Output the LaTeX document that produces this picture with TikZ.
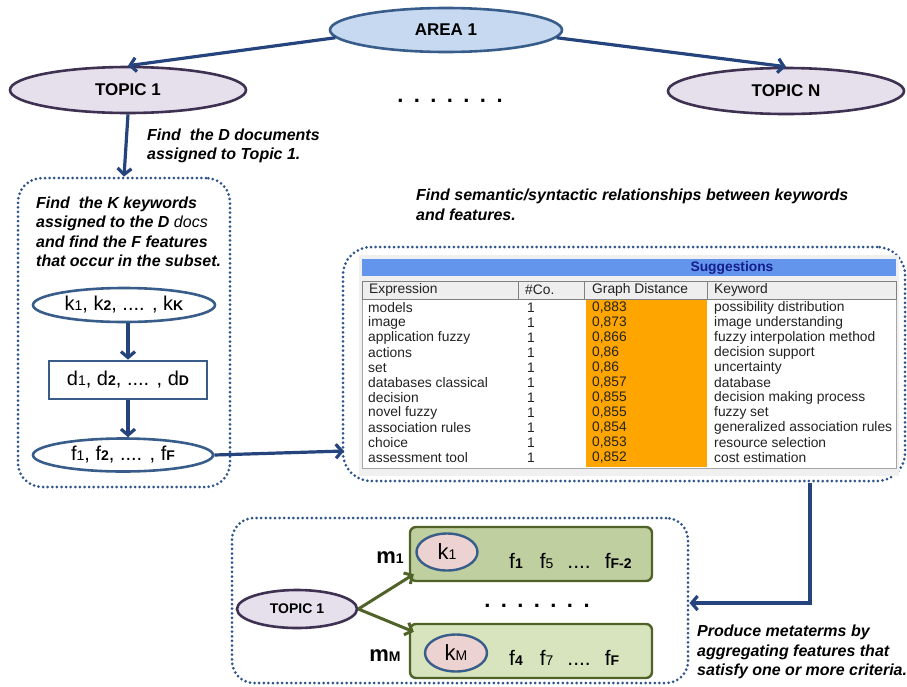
\documentclass[tikz,border=0pt]{standalone}
\usepackage{fontspec}
\setmainfont{Liberation Sans}
\usetikzlibrary{shapes.geometric, arrows.meta}

\definecolor{arrblue}{RGB}{37,68,125}
\definecolor{ellblue}{RGB}{56,93,138}
\definecolor{areafill}{RGB}{198,217,241}
\definecolor{topicfill}{RGB}{229,224,236}
\definecolor{topicline}{RGB}{63,49,81}
\definecolor{dotblue}{RGB}{46,84,140}
\definecolor{metaline}{RGB}{79,98,40}
\definecolor{metafill}{RGB}{215,228,189}
\definecolor{metafilldark}{RGB}{192,207,160}
\definecolor{kfill}{RGB}{236,210,208}
\definecolor{sugbar}{RGB}{100,149,237}
\definecolor{sugtitle}{RGB}{20,30,140}
\definecolor{headgray}{RGB}{238,238,238}
\definecolor{panelgray}{RGB}{240,240,240}
\definecolor{gdorange}{RGB}{255,165,0}
\definecolor{celltext}{RGB}{34,34,34}

\newcommand{\subidx}[1]{{\fontsize{14}{14}\selectfont\bfseries #1}}
\newcommand{\subrm}[1]{{\fontsize{14}{14}\selectfont #1}}
\newcommand{\dotrow}{.\hspace{10.4pt}.\hspace{10.4pt}.\hspace{10.4pt}.\hspace{10.4pt}.\hspace{10.4pt}.\hspace{10.4pt}.}

\tikzset{
  areaell/.style = {ellipse, draw=ellblue, line width=2.6pt, fill=areafill, inner sep=0,
    minimum width=232pt, minimum height=44pt, font=\fontsize{17}{17}\selectfont\bfseries},
  topicell/.style = {ellipse, draw=topicline, line width=2.6pt, fill=topicfill, inner sep=0,
    minimum width=236pt, minimum height=46pt, font=\fontsize{17}{17}\selectfont\bfseries},
  setell/.style = {ellipse, draw=ellblue, line width=2.6pt, fill=white, inner sep=0,
    minimum width=182pt, minimum height=34pt, font=\fontsize{20}{20}\selectfont},
  kell/.style = {ellipse, draw=ellblue, line width=2.4pt, fill=kfill, inner sep=0,
    minimum width=61pt, minimum height=37pt, font=\fontsize{22}{22}\selectfont},
  dotbox/.style = {draw=dotblue, line width=3pt, dash pattern=on 0pt off 4.6pt,
    line cap=round, rounded corners=24pt, inner sep=0},
  metabar/.style = {draw=metaline, line width=2.4pt, rounded corners=6pt, inner sep=0,
    minimum width=242pt, minimum height=54pt},
  bluearr/.style = {draw=arrblue, line width=3.2pt, -{Straight Barb[length=6pt,width=14pt]}},
  greenarr/.style = {draw=metaline, line width=3pt, -{Straight Barb[length=6pt,width=13pt]}},
  note/.style = {align=left, anchor=west, inner sep=0, font=\fontsize{16}{19.5}\selectfont\bfseries\itshape},
  cell/.style = {anchor=west, inner sep=0, text=celltext, font=\fontsize{13.8}{13.8}\selectfont},
  bigdots/.style = {inner sep=0, font=\fontsize{22}{22}\selectfont\bfseries},
  frow/.style = {anchor=west, inner sep=0, font=\fontsize{21}{21}\selectfont},
}

\begin{document}
\begin{tikzpicture}[x=1pt, y=-1pt]
    \useasboundingbox (0,0) rectangle (907,686);

    % top level
    \node[areaell] (area) at (446,30) {AREA 1};
    \node[topicell] (topic1) at (128,90) {TOPIC 1};
    \node[topicell] (topicN) at (786,91) {TOPIC N};
    \node[bigdots] (topdots) at (450,101) {\dotrow};
    \draw[bluearr] (area.184) -- (topic1.north);
    \draw[bluearr] (area.-4) -- (topicN.north);

    \node[note] (finddocs) at (147,146) {Find\ \ the D documents\\assigned to Topic 1.};

    % keywords, documents, features
    \node[dotbox, minimum width=212pt, minimum height=309pt] (kbox) at (124,332.5) {};
    \draw[bluearr] (topic1.south) -- (kbox.north);
    \node[note] (findkeys) at (36,232) {Find\ \ the K keywords\\assigned to the D {\mdseries docs}\\and find the F features\\that occur in the subset.};
    \node[setell] (kset) at (124,305) {k\subrm{1}, k\subidx{2}, .... , k\subidx{K}};
    \node[draw=ellblue, line width=2.6pt, fill=white, inner sep=0, minimum width=158pt,
          minimum height=38pt, font=\fontsize{20}{20}\selectfont] (dset) at (128,380)
          {d\subrm{1}, d\subidx{2}, .... , d\subidx{D}};
    \node[setell, minimum width=180pt, minimum height=33pt] (fset) at (123,455)
          {f\subrm{1}, f\subidx{2}, .... , f\subidx{F}};
    \draw[bluearr] (dset.north |- kset.south) -- (dset.north);
    \draw[bluearr] (dset.south) -- (dset.south |- fset.north);

    % suggestions table
    \node[note] (findrel) at (416,205)
          {Find semantic/syntactic relationships between keywords\\and features.};
    \node[dotbox, rounded corners=28pt, minimum width=562pt, minimum height=234pt] (sugbox) at (624,364) {};
    \fill[panelgray] (359,255) rectangle (899,476);
    \fill[sugbar] (362,259) rectangle (896,276);
    \node[font=\fontsize{13.8}{13.8}\selectfont\bfseries, text=sugtitle] (sugtitle) at (732,267.5) {Suggestions};
    \draw[gray!70, fill=white] (362,299) rectangle (896,468);
    \fill[gdorange] (586,300) rectangle (707,467);
    \draw[gray, fill=headgray] (362,281) rectangle (518,299);
    \draw[gray, fill=headgray] (518,281) rectangle (584,299);
    \draw[gray, fill=headgray] (584,281) rectangle (707,299);
    \draw[gray, fill=headgray] (707,281) rectangle (896,299);
    \node[cell] (hexpr) at (369,290) {Expression};
    \node[cell] (hco) at (525,290) {\#Co.};
    \node[cell] (hgd) at (592,290) {Graph Distance};
    \node[cell] (hkw) at (714,290) {Keyword};
    \foreach \ex/\gd/\kw [count=\i from 0] in {
        models/{0,883}/possibility distribution,
        image/{0,873}/image understanding,
        application fuzzy/{0,866}/fuzzy interpolation method,
        actions/{0,86}/decision support,
        set/{0,86}/uncertainty,
        databases classical/{0,857}/database,
        decision/{0,855}/decision making process,
        novel fuzzy/{0,855}/fuzzy set,
        association rules/{0,854}/generalized association rules,
        choice/{0,853}/resource selection,
        assessment tool/{0,852}/cost estimation}
    {
        \node[cell] (ex\i) at (368,308+15*\i) {\ex};
        \node[cell] (co\i) at (527,308+15*\i) {1};
        \node[cell] (gd\i) at (592,308+15*\i) {\gd};
        \node[cell] (kw\i) at (714,308+15*\i) {\kw};
    }
    \coordinate (sugin) at (344,451);
    \draw[bluearr] (fset.east) -- (sugin);

    % metaterms
    \node[dotbox, rounded corners=22pt, minimum width=456pt, minimum height=165pt] (metabox) at (460,600.5) {};
    \coordinate (bend) at (810,603);
    \draw[bluearr] (bend |- sugbox.south) -- (bend) -- (bend -| metabox.east);
    \node[metabar, fill=metafilldark] (m1box) at (531,554) {};
    \node[metabar, fill=metafill] (mMbox) at (531,651) {};
    \node[kell] (k1) at (447,552) {k\subrm{1}};
    \node[kell, minimum width=62pt] (kM) at (456,653) {k\subrm{M}};
    \node[inner sep=0, font=\fontsize{22}{22}\selectfont\bfseries] (m1) at (390,558) {m\subrm{1}};
    \node[inner sep=0, font=\fontsize{22}{22}\selectfont\bfseries] (mM) at (385,656) {m\subidx{M}};
    \node[frow] (f1row) at (509,561)
          {f\subidx{1}\hspace{17pt}f\subrm{5}\hspace{14pt}....\hspace{14pt}f\subidx{F-2}};
    \node[frow] (fMrow) at (509,658)
          {f\subidx{4}\hspace{17pt}f\subrm{7}\hspace{14pt}....\hspace{14pt}f\subidx{F}};
    \node[topicell, minimum width=120pt, minimum height=38pt, font=\fontsize{14}{14}\selectfont\bfseries]
          (topic1b) at (297,609) {TOPIC 1};
    \node[bigdots] (middots) at (537,606) {\dotrow};
    \draw[greenarr] (topic1b.east) -- ([xshift=5pt,yshift=8pt]m1box.south west);
    \draw[greenarr] (topic1b.east) -- ([xshift=5pt,yshift=-9pt]mMbox.north west);
    \node[note] (produce) at (697,652) {Produce metaterms by\\aggregating features that\\satisfy one or more criteria.};
\end{tikzpicture}
\end{document}
